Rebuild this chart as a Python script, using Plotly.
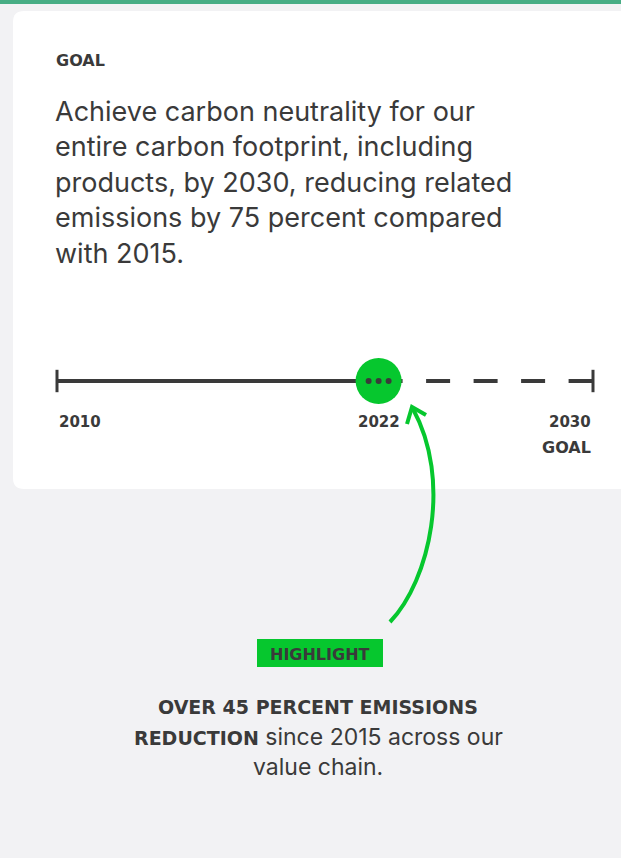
import plotly.graph_objects as go

# ---- data ----
years = [2010, 2022, 2030]
year_labels = ["2010", "2022", "2030"]
current_year = 2022
goal_label = "GOAL"
heading = "GOAL"
goal_lines = [
    "Achieve carbon neutrality for our",
    "entire carbon footprint, including",
    "products, by 2030, reducing related",
    "emissions by 75 percent compared",
    "with 2015.",
]
highlight_tag = "HIGHLIGHT"
highlight_bold_1 = "OVER 45 PERCENT EMISSIONS"
highlight_bold_2 = "REDUCTION"
highlight_rest_2 = " since 2015 across our"
highlight_line_3 = "value chain."

# ---- style ----
W, H = 621, 858
BG = "#f2f2f4"
DARK = "#3a3a3a"
GREEN = "#06c72e"
TOPBAR = "#47ad84"
SANS = "Inter, Liberation Sans, Arial, sans-serif"
HAND = "DejaVu Sans, sans-serif"

LINE_Y = 381
PX_2010, PX_2030 = 57, 593
ppy = (PX_2030 - PX_2010) / (years[-1] - years[0])
yr_range = [years[0] - PX_2010 / ppy, years[0] + (W - PX_2010) / ppy]

fig = go.Figure()

# timeline solid part
fig.add_trace(go.Scatter(x=[years[0], current_year], y=[LINE_Y, LINE_Y], xaxis="x2", yaxis="y",
                         mode="lines", line=dict(color=DARK, width=4), hoverinfo="skip"))
# dashed part
fig.add_trace(go.Scatter(x=[current_year, years[-1]], y=[LINE_Y, LINE_Y], xaxis="x2", yaxis="y",
                         mode="lines", line=dict(color=DARK, width=4, dash="24px,23.5px"), hoverinfo="skip"))
# end ticks
fig.add_trace(go.Scatter(x=[years[0], years[-1]], y=[LINE_Y, LINE_Y], xaxis="x2", yaxis="y",
                         mode="markers",
                         marker=dict(symbol="line-ns", size=16, line=dict(color=DARK, width=3)),
                         hoverinfo="skip"))
# current point
fig.add_trace(go.Scatter(x=[current_year], y=[LINE_Y], xaxis="x2", yaxis="y", mode="markers",
                         marker=dict(size=46, color=GREEN, line=dict(width=0)), hoverinfo="skip"))

shapes = []
# top bar
shapes.append(dict(type="rect", xref="x", yref="y", x0=0, x1=W, y0=0, y1=4,
                   fillcolor=TOPBAR, line=dict(width=0), layer="below"))
# white card with rounded corners
r = 11
x0c, x1c, y0c, y1c = 13, W + 20, 11, 489
card = (f"M {x0c + r},{y0c} L {x1c - r},{y0c} Q {x1c},{y0c} {x1c},{y0c + r} "
        f"L {x1c},{y1c - r} Q {x1c},{y1c} {x1c - r},{y1c} L {x0c + r},{y1c} "
        f"Q {x0c},{y1c} {x0c},{y1c - r} L {x0c},{y0c + r} Q {x0c},{y0c} {x0c + r},{y0c} Z")
shapes.append(dict(type="path", xref="x", yref="y", path=card, fillcolor="white",
                   line=dict(width=0), layer="below"))
# dots in circle
for off in (-10, 0, 10):
    shapes.append(dict(type="circle", xref="x2", yref="y", xsizemode="pixel", ysizemode="pixel",
                       xanchor=current_year, yanchor=LINE_Y, x0=off - 3, x1=off + 3,
                       y0=-3, y1=3, fillcolor=DARK, line=dict(width=0), layer="above"))
# arrow
shapes.append(dict(type="path", xref="x", yref="y", path="M 390,622 C 430,580 452,480 413,409",
                   line=dict(color=GREEN, width=4)))
shapes.append(dict(type="path", xref="x", yref="y", path="M 407,424 L 412,407 L 426,415",
                   line=dict(color=GREEN, width=4)))
# highlight tag box
shapes.append(dict(type="rect", xref="x", yref="y", x0=257, x1=383, y0=639, y1=667,
                   fillcolor=GREEN, line=dict(width=0)))

ann = []
ann.append(dict(x=54, y=60, xref="x", yref="y", text=f"<b>{heading}</b>", showarrow=False,
                xanchor="left", yanchor="middle", font=dict(family=HAND, size=16, color=DARK)))
line_y0, line_dy = 111, 35.5
for i, t in enumerate(goal_lines):
    ann.append(dict(x=53, y=line_y0 + i * line_dy, xref="x", yref="y", text=t, showarrow=False,
                    xanchor="left", yanchor="middle", font=dict(family=SANS, size=27, color=DARK)))
anchors = ["left", "center", "right"]
for yr, lab, a in zip(years, year_labels, anchors):
    ann.append(dict(x=yr, y=422, xref="x2", yref="y", text=f"<b>{lab}</b>", showarrow=False,
                    xanchor=a, yanchor="middle", font=dict(family=HAND, size=15, color=DARK)))
ann.append(dict(x=years[-1], y=447, xref="x2", yref="y", text=f"<b>{goal_label}</b>", showarrow=False,
                xanchor="right", yanchor="middle", font=dict(family=HAND, size=16, color=DARK)))
ann.append(dict(x=320, y=654, xref="x", yref="y", text=f"<b>{highlight_tag}</b>", showarrow=False,
                xanchor="center", yanchor="middle", font=dict(family=HAND, size=16, color=DARK)))
ann.append(dict(x=318, y=707, xref="x", yref="y", text=f"<b>{highlight_bold_1}</b>", showarrow=False,
                xanchor="center", yanchor="middle", font=dict(family=HAND, size=19, color=DARK)))
ann.append(dict(x=318, y=737, xref="x", yref="y",
                text=(f"<span style='font-family:DejaVu Sans;font-size:19px'><b>{highlight_bold_2}</b></span>"
                      f"{highlight_rest_2}"),
                showarrow=False, xanchor="center", yanchor="middle",
                font=dict(family=SANS, size=23, color=DARK)))
ann.append(dict(x=318, y=767, xref="x", yref="y", text=highlight_line_3, showarrow=False,
                xanchor="center", yanchor="middle", font=dict(family=SANS, size=23, color=DARK)))

fig.update_layout(
    width=W, height=H, margin=dict(l=0, r=0, t=0, b=0),
    paper_bgcolor=BG, plot_bgcolor=BG, showlegend=False,
    xaxis=dict(range=[0, W], visible=False, fixedrange=True),
    xaxis2=dict(range=yr_range, overlaying="x", visible=False, fixedrange=True),
    yaxis=dict(range=[H, 0], visible=False, fixedrange=True),
    shapes=shapes, annotations=ann,
)

fig.write_html("out.html", config={"displayModeBar": False},
               post_script="document.body.style.margin='0';document.body.style.overflow='hidden';")
